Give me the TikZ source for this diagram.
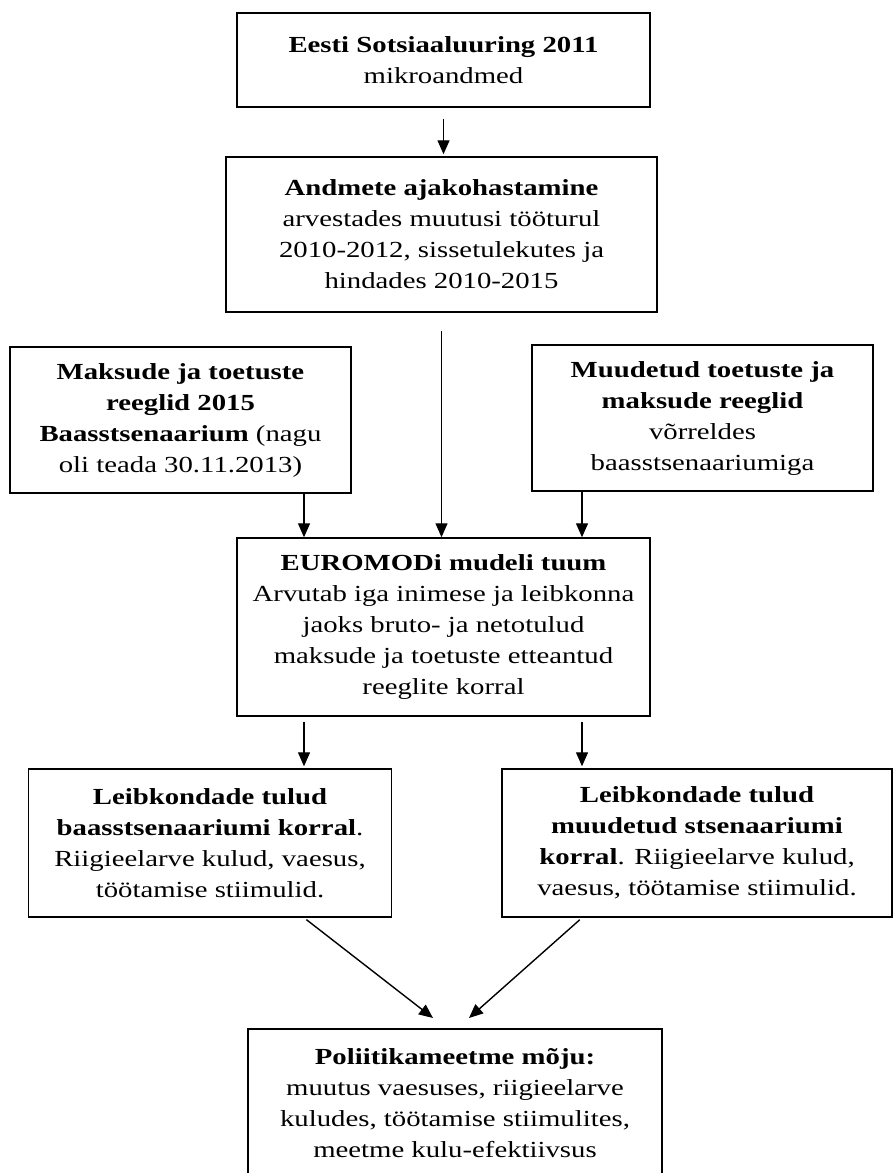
\documentclass[tikz,border=0pt]{standalone}
\usepackage{fontspec}
\setmainfont[FakeStretch=1.25]{Liberation Serif}
\usetikzlibrary{arrows.meta}
\tikzset{
  box/.style={draw, line width=1.5pt, align=center, inner sep=0pt,
    font=\fontsize{23}{31}\selectfont},
  arr/.style={line width=1.4pt, -{Triangle[length=14pt,width=12pt]}},
}
\begin{document}
\begin{tikzpicture}[x=1pt,y=-1pt]
\useasboundingbox (0,0) rectangle (894,1173);
\node[box, minimum width=413pt, minimum height=94pt] (b1) at (443.5,60)
  {\textbf{Eesti Sotsiaaluuring 2011}\\mikroandmed};
\node[box, minimum width=431pt, minimum height=155pt] (b2) at (441.5,234.5)
  {\textbf{Andmete ajakohastamine}\\arvestades muutusi tööturul\\2010-2012, sissetulekutes ja\\hindades 2010-2015};
\node[box, minimum width=341pt, minimum height=146pt] (rl) at (180.5,420)
  {\textbf{Maksude ja toetuste}\\\textbf{reeglid 2015}\\\textbf{Baasstsenaarium} (nagu\\oli teada 30.11.2013)};
\node[box, minimum width=341pt, minimum height=146pt] (rr) at (702.5,418)
  {\textbf{Muudetud toetuste ja}\\\textbf{maksude reeglid}\\võrreldes\\baasstsenaariumiga};
\node[box, minimum width=413pt, minimum height=178pt] (em) at (443.5,627)
  {\textbf{EUROMODi mudeli tuum}\\Arvutab iga inimese ja leibkonna\\jaoks bruto- ja netotulud\\maksude ja toetuste etteantud\\reeglite korral};
\node[box, minimum width=363pt, minimum height=148pt] (ll) at (210,843)
  {\textbf{Leibkondade tulud}\\\textbf{baasstsenaariumi korral}.\\Riigieelarve kulud, vaesus,\\töötamise stiimulid.};
\node[box, minimum width=390pt, minimum height=148pt] (lr) at (697,843)
  {\textbf{Leibkondade tulud}\\\textbf{muudetud stsenaariumi}\\\textbf{korral}. Riigieelarve kulud,\\vaesus, töötamise stiimulid.};
\node[box, minimum width=414pt, minimum height=148pt] (bt) at (455,1103)
  {\textbf{Poliitikameetme mõju:}\\muutus vaesuses, riigieelarve\\kuludes, töötamise stiimulites,\\meetme kulu-efektiivsus};
\coordinate (xl) at (304,0);
\coordinate (xr) at (582,0);
\coordinate (pl) at (433,1018);
\coordinate (pr) at (469,1018);
\draw[arr, shorten <=11pt, shorten >=2pt] (b1.south) -- (b1.south |- b2.north);
\draw[arr, shorten <=18pt] (b2.south) -- (b2.south |- em.north);
\draw[arr] (rl.south -| xl) -- (em.north -| xl);
\draw[arr] (rr.south -| xr) -- (em.north -| xr);
\draw[arr, shorten <=5pt, shorten >=2pt] (em.south -| xl) -- (ll.north -| xl);
\draw[arr, shorten <=5pt, shorten >=2pt] (em.south -| xr) -- (lr.north -| xr);
\draw[arr, shorten <=3pt] (ll.south -| xl) -- (pl);
\draw[arr, shorten <=3pt] (lr.south -| xr) -- (pr);
\end{tikzpicture}
\end{document}
